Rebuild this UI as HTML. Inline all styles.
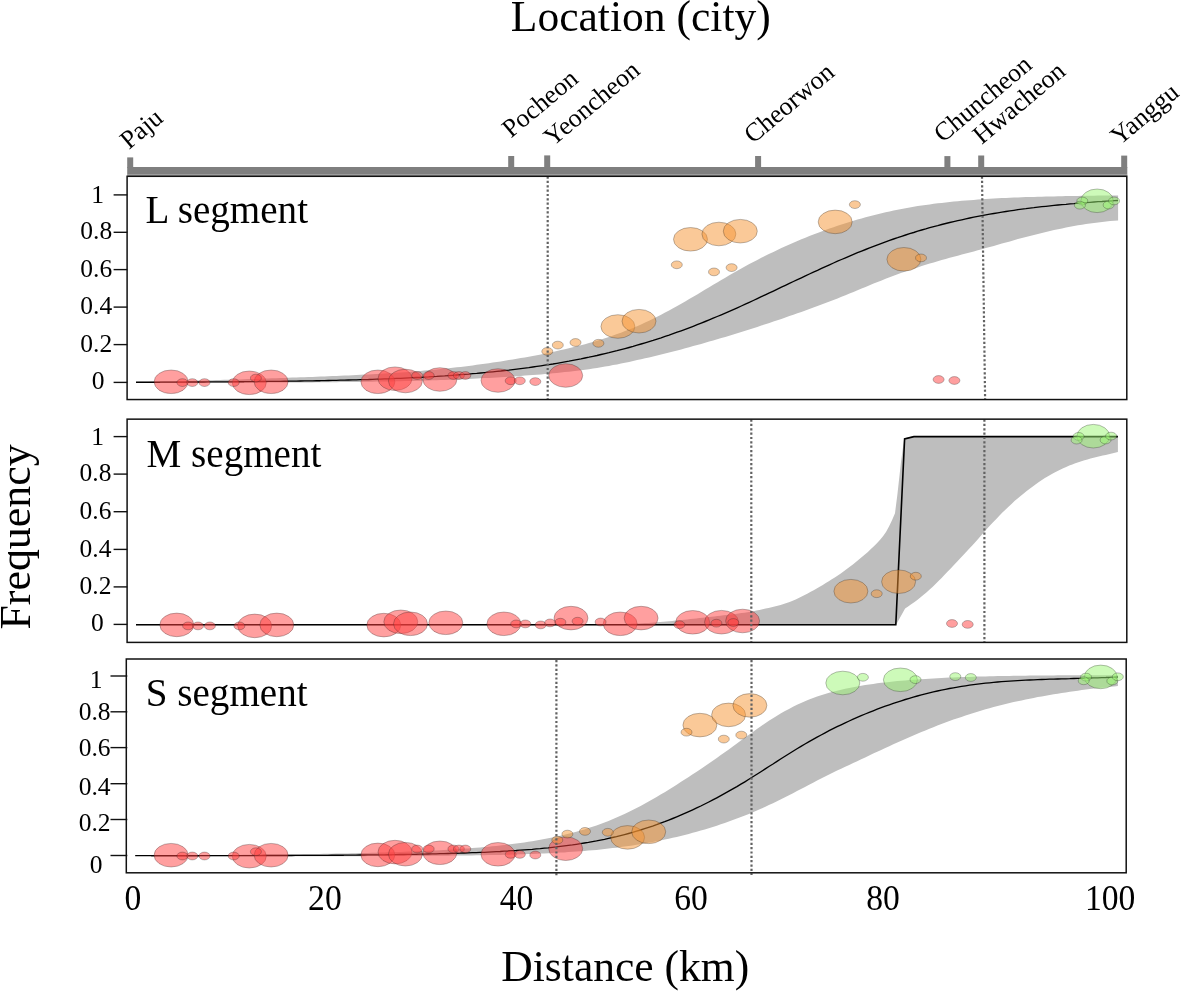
<!DOCTYPE html>
<html><head><meta charset="utf-8"><title>Cline chart</title>
<style>html,body{margin:0;padding:0;background:#fff;}svg{display:block;will-change:transform;}text{font-family:"Liberation Serif", serif;fill:#000;}.e ellipse{stroke:rgba(40,40,40,0.38);stroke-width:0.8;}.dot{stroke:#626262;stroke-width:2.2;stroke-dasharray:2.2 2.15;fill:none;}.fr{fill:none;stroke:#111;stroke-width:1.5;}.tk{stroke:#111;stroke-width:1.4;fill:none;}.ln{stroke:#000;stroke-width:1.35;fill:none;stroke-linejoin:round;}.yl{font-size:25.5px;}.xl{font-size:34.5px;}.pt{font-size:39.1px;}.ct{font-size:26px;}.ax{font-size:43.55px;}</style></head><body>
<svg width="1182" height="991" viewBox="0 0 1182 991">
<rect x="0" y="0" width="1182" height="991" fill="#fff"/>
<text class="ax" x="510.8" y="31">Location (city)</text>
<text class="ax" x="501.3" y="980.8">Distance (km)</text>
<text class="ax" style="font-size:43.9px" transform="translate(30.2,629.6) rotate(-90)">Frequency</text>
<text class="ct" transform="translate(129.0,150.0) rotate(-40)">Paju</text>
<text class="ct" transform="translate(511.0,138.6) rotate(-40)">Pocheon</text>
<text class="ct" transform="translate(552.8,147.0) rotate(-40)">Yeoncheon</text>
<text class="ct" transform="translate(752.9,144.3) rotate(-40)">Cheorwon</text>
<text class="ct" transform="translate(942.8,143.3) rotate(-40)">Chuncheon</text>
<text class="ct" transform="translate(981.8,145.0) rotate(-40)">Hwacheon</text>
<text class="ct" transform="translate(1119.4,146.1) rotate(-40)">Yanggu</text>
<rect x="127.2" y="167" width="1000.1" height="7.2" fill="#7f7f7f"/>
<rect x="127.2" y="174" width="1000.1" height="2" fill="#9c9c9c"/>
<rect x="127.2" y="157.4" width="6.0" height="10.6" fill="#7f7f7f"/>
<rect x="508.2" y="156.0" width="6.0" height="12.0" fill="#7f7f7f"/>
<rect x="544.2" y="155.4" width="6.0" height="12.6" fill="#7f7f7f"/>
<rect x="755.1" y="156.0" width="6.0" height="12.0" fill="#7f7f7f"/>
<rect x="944.4" y="156.1" width="6.0" height="11.9" fill="#7f7f7f"/>
<rect x="978.2" y="155.5" width="6.0" height="12.5" fill="#7f7f7f"/>
<rect x="1121.2" y="155.6" width="6.0" height="12.4" fill="#7f7f7f"/>
<g>
<path d="M136.0 381.9 L140.0 381.8 L144.0 381.7 L148.0 381.7 L152.0 381.6 L156.0 381.5 L160.1 381.4 L164.1 381.3 L168.1 381.3 L172.1 381.2 L176.1 381.1 L180.1 381.0 L184.1 380.9 L188.1 380.8 L192.1 380.7 L196.1 380.6 L200.1 380.5 L204.1 380.4 L208.2 380.3 L212.2 380.2 L216.2 380.1 L220.2 380.0 L224.2 379.8 L228.2 379.7 L232.2 379.6 L236.2 379.5 L240.2 379.4 L244.2 379.2 L248.2 379.1 L252.2 379.0 L256.3 378.9 L260.3 378.7 L264.3 378.6 L268.3 378.5 L272.3 378.3 L276.3 378.2 L280.3 378.1 L284.3 377.9 L288.3 377.8 L292.3 377.6 L296.3 377.5 L300.4 377.3 L304.4 377.2 L308.4 377.1 L312.4 376.9 L316.4 376.7 L320.4 376.6 L324.4 376.4 L328.4 376.3 L332.4 376.1 L336.4 375.9 L340.4 375.8 L344.4 375.6 L348.5 375.4 L352.5 375.2 L356.5 375.0 L360.5 374.8 L364.5 374.6 L368.5 374.4 L372.5 374.2 L376.5 374.0 L380.5 373.8 L384.5 373.5 L388.5 373.3 L392.5 373.0 L396.6 372.8 L400.6 372.5 L404.6 372.2 L408.6 371.9 L412.6 371.6 L416.6 371.3 L420.6 370.9 L424.6 370.6 L428.6 370.2 L432.6 369.8 L436.6 369.5 L440.7 369.1 L444.7 368.6 L448.7 368.2 L452.7 367.8 L456.7 367.3 L460.7 366.9 L464.7 366.4 L468.7 365.9 L472.7 365.4 L476.7 364.8 L480.7 364.3 L484.7 363.7 L488.8 363.2 L492.8 362.6 L496.8 362.0 L500.8 361.4 L504.8 360.8 L508.8 360.1 L512.8 359.5 L516.8 358.8 L520.8 358.1 L524.8 357.4 L528.8 356.7 L532.8 355.9 L536.9 355.2 L540.9 354.4 L544.9 353.6 L548.9 352.7 L552.9 351.9 L556.9 351.0 L560.9 350.1 L564.9 349.2 L568.9 348.3 L572.9 347.3 L576.9 346.3 L581.0 345.2 L585.0 344.2 L589.0 343.1 L593.0 341.9 L597.0 340.7 L601.0 339.5 L605.0 338.2 L609.0 336.9 L613.0 335.6 L617.0 334.1 L621.0 332.7 L625.0 331.1 L629.1 329.6 L633.1 327.9 L637.1 326.2 L641.1 324.4 L645.1 322.6 L649.1 320.7 L653.1 318.8 L657.1 316.8 L661.1 314.7 L665.1 312.6 L669.1 310.4 L673.1 308.3 L677.2 306.0 L681.2 303.7 L685.2 301.4 L689.2 299.1 L693.2 296.8 L697.2 294.4 L701.2 292.0 L705.2 289.6 L709.2 287.2 L713.2 284.8 L717.2 282.4 L721.3 280.0 L725.3 277.7 L729.3 275.3 L733.3 273.0 L737.3 270.8 L741.3 268.5 L745.3 266.3 L749.3 264.1 L753.3 262.0 L757.3 259.9 L761.3 257.8 L765.3 255.8 L769.4 253.8 L773.4 251.9 L777.4 250.0 L781.4 248.1 L785.4 246.3 L789.4 244.5 L793.4 242.7 L797.4 241.0 L801.4 239.3 L805.4 237.7 L809.4 236.1 L813.4 234.5 L817.5 233.0 L821.5 231.5 L825.5 230.0 L829.5 228.6 L833.5 227.2 L837.5 225.8 L841.5 224.5 L845.5 223.2 L849.5 222.0 L853.5 220.8 L857.5 219.6 L861.6 218.4 L865.6 217.3 L869.6 216.2 L873.6 215.2 L877.6 214.2 L881.6 213.2 L885.6 212.3 L889.6 211.4 L893.6 210.6 L897.6 209.7 L901.6 208.9 L905.6 208.2 L909.7 207.5 L913.7 206.8 L917.7 206.1 L921.7 205.5 L925.7 204.9 L929.7 204.4 L933.7 203.8 L937.7 203.3 L941.7 202.9 L945.7 202.4 L949.7 202.0 L953.7 201.6 L957.8 201.2 L961.8 200.8 L965.8 200.5 L969.8 200.2 L973.8 199.9 L977.8 199.6 L981.8 199.3 L985.8 199.0 L989.8 198.8 L993.8 198.6 L997.8 198.3 L1001.9 198.1 L1005.9 198.0 L1009.9 197.8 L1013.9 197.6 L1017.9 197.4 L1021.9 197.3 L1025.9 197.1 L1029.9 197.0 L1033.9 196.9 L1037.9 196.8 L1041.9 196.7 L1045.9 196.5 L1050.0 196.5 L1054.0 196.4 L1058.0 196.3 L1062.0 196.2 L1066.0 196.1 L1070.0 196.0 L1074.0 196.0 L1078.0 195.9 L1082.0 195.8 L1086.0 195.8 L1090.0 195.7 L1094.0 195.7 L1098.1 195.6 L1102.1 195.6 L1106.1 195.6 L1110.1 195.5 L1114.1 195.5 L1118.1 195.5 L1118.1 220.4 L1114.1 220.7 L1110.1 221.1 L1106.1 221.5 L1102.1 221.9 L1098.1 222.4 L1094.0 222.9 L1090.0 223.4 L1086.0 224.0 L1082.0 224.7 L1078.0 225.3 L1074.0 226.0 L1070.0 226.8 L1066.0 227.6 L1062.0 228.4 L1058.0 229.2 L1054.0 230.1 L1050.0 231.0 L1045.9 231.9 L1041.9 232.9 L1037.9 233.9 L1033.9 234.9 L1029.9 235.9 L1025.9 237.0 L1021.9 238.1 L1017.9 239.1 L1013.9 240.2 L1009.9 241.4 L1005.9 242.5 L1001.9 243.6 L997.8 244.7 L993.8 245.9 L989.8 247.0 L985.8 248.1 L981.8 249.2 L977.8 250.3 L973.8 251.4 L969.8 252.5 L965.8 253.5 L961.8 254.6 L957.8 255.7 L953.7 256.8 L949.7 257.8 L945.7 258.9 L941.7 260.1 L937.7 261.2 L933.7 262.4 L929.7 263.6 L925.7 264.8 L921.7 266.1 L917.7 267.4 L913.7 268.7 L909.7 270.0 L905.6 271.4 L901.6 272.8 L897.6 274.3 L893.6 275.7 L889.6 277.3 L885.6 278.8 L881.6 280.4 L877.6 282.0 L873.6 283.6 L869.6 285.3 L865.6 287.0 L861.6 288.6 L857.5 290.3 L853.5 291.9 L849.5 293.6 L845.5 295.2 L841.5 296.8 L837.5 298.4 L833.5 299.9 L829.5 301.5 L825.5 303.0 L821.5 304.5 L817.5 306.0 L813.4 307.5 L809.4 309.0 L805.4 310.4 L801.4 311.9 L797.4 313.3 L793.4 314.7 L789.4 316.1 L785.4 317.5 L781.4 318.9 L777.4 320.3 L773.4 321.6 L769.4 323.0 L765.3 324.3 L761.3 325.6 L757.3 326.9 L753.3 328.2 L749.3 329.5 L745.3 330.7 L741.3 332.0 L737.3 333.2 L733.3 334.5 L729.3 335.7 L725.3 336.9 L721.3 338.1 L717.2 339.3 L713.2 340.5 L709.2 341.6 L705.2 342.8 L701.2 343.9 L697.2 345.0 L693.2 346.1 L689.2 347.2 L685.2 348.3 L681.2 349.4 L677.2 350.4 L673.1 351.5 L669.1 352.5 L665.1 353.5 L661.1 354.5 L657.1 355.5 L653.1 356.5 L649.1 357.4 L645.1 358.3 L641.1 359.3 L637.1 360.1 L633.1 361.0 L629.1 361.9 L625.0 362.7 L621.0 363.6 L617.0 364.4 L613.0 365.1 L609.0 365.9 L605.0 366.6 L601.0 367.3 L597.0 367.9 L593.0 368.6 L589.0 369.2 L585.0 369.7 L581.0 370.3 L576.9 370.8 L572.9 371.3 L568.9 371.7 L564.9 372.1 L560.9 372.6 L556.9 373.0 L552.9 373.3 L548.9 373.7 L544.9 374.0 L540.9 374.4 L536.9 374.7 L532.8 375.0 L528.8 375.3 L524.8 375.6 L520.8 375.9 L516.8 376.2 L512.8 376.4 L508.8 376.7 L504.8 376.9 L500.8 377.2 L496.8 377.4 L492.8 377.7 L488.8 377.9 L484.7 378.1 L480.7 378.3 L476.7 378.5 L472.7 378.7 L468.7 378.9 L464.7 379.1 L460.7 379.3 L456.7 379.4 L452.7 379.6 L448.7 379.8 L444.7 379.9 L440.7 380.1 L436.6 380.2 L432.6 380.3 L428.6 380.4 L424.6 380.6 L420.6 380.7 L416.6 380.8 L412.6 380.9 L408.6 381.0 L404.6 381.1 L400.6 381.2 L396.6 381.3 L392.5 381.4 L388.5 381.4 L384.5 381.5 L380.5 381.6 L376.5 381.6 L372.5 381.7 L368.5 381.8 L364.5 381.8 L360.5 381.9 L356.5 381.9 L352.5 382.0 L348.5 382.0 L344.4 382.1 L340.4 382.1 L336.4 382.2 L332.4 382.2 L328.4 382.2 L324.4 382.3 L320.4 382.3 L316.4 382.3 L312.4 382.4 L308.4 382.4 L304.4 382.4 L300.4 382.4 L296.3 382.5 L292.3 382.5 L288.3 382.5 L284.3 382.5 L280.3 382.5 L276.3 382.6 L272.3 382.6 L268.3 382.6 L264.3 382.6 L260.3 382.6 L256.3 382.6 L252.2 382.6 L248.2 382.7 L244.2 382.7 L240.2 382.7 L236.2 382.7 L232.2 382.7 L228.2 382.7 L224.2 382.7 L220.2 382.7 L216.2 382.7 L212.2 382.7 L208.2 382.7 L204.1 382.7 L200.1 382.7 L196.1 382.7 L192.1 382.7 L188.1 382.7 L184.1 382.7 L180.1 382.7 L176.1 382.7 L172.1 382.7 L168.1 382.7 L164.1 382.7 L160.1 382.7 L156.0 382.7 L152.0 382.7 L148.0 382.7 L144.0 382.7 L140.0 382.6 L136.0 382.6Z" fill="#bebebe"/>
<path class="ln" d="M136.0 382.2 L140.0 382.2 L144.0 382.2 L148.0 382.2 L152.0 382.2 L156.0 382.2 L160.1 382.2 L164.1 382.1 L168.1 382.1 L172.1 382.1 L176.1 382.1 L180.1 382.1 L184.1 382.1 L188.1 382.0 L192.1 382.0 L196.1 382.0 L200.1 382.0 L204.1 382.0 L208.2 381.9 L212.2 381.9 L216.2 381.9 L220.2 381.9 L224.2 381.8 L228.2 381.8 L232.2 381.8 L236.2 381.7 L240.2 381.7 L244.2 381.7 L248.2 381.6 L252.2 381.6 L256.3 381.6 L260.3 381.5 L264.3 381.5 L268.3 381.4 L272.3 381.4 L276.3 381.3 L280.3 381.3 L284.3 381.2 L288.3 381.2 L292.3 381.1 L296.3 381.1 L300.4 381.0 L304.4 380.9 L308.4 380.9 L312.4 380.8 L316.4 380.7 L320.4 380.7 L324.4 380.6 L328.4 380.5 L332.4 380.4 L336.4 380.3 L340.4 380.2 L344.4 380.1 L348.5 380.0 L352.5 379.9 L356.5 379.8 L360.5 379.7 L364.5 379.6 L368.5 379.5 L372.5 379.3 L376.5 379.2 L380.5 379.1 L384.5 378.9 L388.5 378.8 L392.5 378.6 L396.6 378.4 L400.6 378.3 L404.6 378.1 L408.6 377.9 L412.6 377.7 L416.6 377.5 L420.6 377.3 L424.6 377.1 L428.6 376.9 L432.6 376.6 L436.6 376.4 L440.7 376.1 L444.7 375.9 L448.7 375.6 L452.7 375.3 L456.7 375.0 L460.7 374.7 L464.7 374.4 L468.7 374.1 L472.7 373.7 L476.7 373.4 L480.7 373.0 L484.7 372.6 L488.8 372.2 L492.8 371.8 L496.8 371.4 L500.8 371.0 L504.8 370.5 L508.8 370.1 L512.8 369.6 L516.8 369.1 L520.8 368.6 L524.8 368.1 L528.8 367.6 L532.8 367.0 L536.9 366.4 L540.9 365.8 L544.9 365.2 L548.9 364.6 L552.9 364.0 L556.9 363.3 L560.9 362.6 L564.9 361.9 L568.9 361.2 L572.9 360.4 L576.9 359.6 L581.0 358.9 L585.0 358.0 L589.0 357.2 L593.0 356.3 L597.0 355.5 L601.0 354.5 L605.0 353.6 L609.0 352.7 L613.0 351.7 L617.0 350.7 L621.0 349.6 L625.0 348.6 L629.1 347.5 L633.1 346.4 L637.1 345.2 L641.1 344.0 L645.1 342.8 L649.1 341.6 L653.1 340.4 L657.1 339.1 L661.1 337.8 L665.1 336.4 L669.1 335.1 L673.1 333.7 L677.2 332.2 L681.2 330.8 L685.2 329.3 L689.2 327.8 L693.2 326.3 L697.2 324.7 L701.2 323.1 L705.2 321.5 L709.2 319.9 L713.2 318.2 L717.2 316.5 L721.3 314.8 L725.3 313.1 L729.3 311.3 L733.3 309.6 L737.3 307.8 L741.3 306.0 L745.3 304.2 L749.3 302.3 L753.3 300.5 L757.3 298.6 L761.3 296.7 L765.3 294.8 L769.4 292.9 L773.4 291.1 L777.4 289.2 L781.4 287.2 L785.4 285.3 L789.4 283.4 L793.4 281.5 L797.4 279.6 L801.4 277.8 L805.4 275.9 L809.4 274.0 L813.4 272.1 L817.5 270.3 L821.5 268.4 L825.5 266.6 L829.5 264.8 L833.5 263.0 L837.5 261.2 L841.5 259.5 L845.5 257.8 L849.5 256.1 L853.5 254.4 L857.5 252.7 L861.6 251.1 L865.6 249.5 L869.6 247.9 L873.6 246.4 L877.6 244.8 L881.6 243.3 L885.6 241.9 L889.6 240.4 L893.6 239.0 L897.6 237.7 L901.6 236.3 L905.6 235.0 L909.7 233.7 L913.7 232.5 L917.7 231.2 L921.7 230.0 L925.7 228.9 L929.7 227.7 L933.7 226.6 L937.7 225.6 L941.7 224.5 L945.7 223.5 L949.7 222.5 L953.7 221.6 L957.8 220.7 L961.8 219.8 L965.8 218.9 L969.8 218.0 L973.8 217.2 L977.8 216.4 L981.8 215.6 L985.8 214.9 L989.8 214.2 L993.8 213.5 L997.8 212.8 L1001.9 212.1 L1005.9 211.5 L1009.9 210.9 L1013.9 210.3 L1017.9 209.7 L1021.9 209.2 L1025.9 208.7 L1029.9 208.1 L1033.9 207.7 L1037.9 207.2 L1041.9 206.7 L1045.9 206.3 L1050.0 205.8 L1054.0 205.4 L1058.0 205.0 L1062.0 204.6 L1066.0 204.3 L1070.0 203.9 L1074.0 203.6 L1078.0 203.2 L1082.0 202.9 L1086.0 202.6 L1090.0 202.3 L1094.0 202.0 L1098.1 201.7 L1102.1 201.5 L1106.1 201.2 L1110.1 201.0 L1114.1 200.7 L1118.1 200.5"/>
<g class="e"><ellipse cx="171.1" cy="381.8" rx="17.0" ry="11.8" fill="rgba(255,64,64,0.5)"/><ellipse cx="249.3" cy="382.8" rx="17.0" ry="11.8" fill="rgba(255,64,64,0.5)"/><ellipse cx="271.1" cy="381.8" rx="17.0" ry="11.8" fill="rgba(255,64,64,0.5)"/><ellipse cx="377.9" cy="381.8" rx="17.0" ry="11.8" fill="rgba(255,64,64,0.5)"/><ellipse cx="395.0" cy="378.7" rx="17.0" ry="11.8" fill="rgba(255,64,64,0.5)"/><ellipse cx="405.4" cy="381.0" rx="17.0" ry="11.8" fill="rgba(255,64,64,0.5)"/><ellipse cx="439.9" cy="379.5" rx="17.0" ry="11.8" fill="rgba(255,64,64,0.5)"/><ellipse cx="498.0" cy="380.5" rx="17.0" ry="11.8" fill="rgba(255,64,64,0.5)"/><ellipse cx="565.7" cy="375.5" rx="17.0" ry="11.8" fill="rgba(255,64,64,0.5)"/><ellipse cx="182.4" cy="382.6" rx="5.5" ry="3.9" fill="rgba(255,64,64,0.5)"/><ellipse cx="192.3" cy="382.6" rx="5.5" ry="3.9" fill="rgba(255,64,64,0.5)"/><ellipse cx="204.5" cy="382.6" rx="5.5" ry="3.9" fill="rgba(255,64,64,0.5)"/><ellipse cx="233.7" cy="382.6" rx="5.5" ry="3.9" fill="rgba(255,64,64,0.5)"/><ellipse cx="255.9" cy="378.1" rx="5.5" ry="3.9" fill="rgba(255,64,64,0.5)"/><ellipse cx="417.2" cy="375.5" rx="5.5" ry="3.9" fill="rgba(255,64,64,0.5)"/><ellipse cx="428.7" cy="375.5" rx="5.5" ry="3.9" fill="rgba(255,64,64,0.5)"/><ellipse cx="453.4" cy="375.5" rx="5.5" ry="3.9" fill="rgba(255,64,64,0.5)"/><ellipse cx="458.9" cy="375.5" rx="5.5" ry="3.9" fill="rgba(255,64,64,0.5)"/><ellipse cx="465.3" cy="375.5" rx="5.5" ry="3.9" fill="rgba(255,64,64,0.5)"/><ellipse cx="510.7" cy="380.8" rx="5.5" ry="3.9" fill="rgba(255,64,64,0.5)"/><ellipse cx="519.8" cy="380.8" rx="5.5" ry="3.9" fill="rgba(255,64,64,0.5)"/><ellipse cx="535.3" cy="381.6" rx="5.5" ry="3.9" fill="rgba(255,64,64,0.5)"/><ellipse cx="938.6" cy="379.5" rx="5.5" ry="3.9" fill="rgba(255,64,64,0.5)"/><ellipse cx="954.4" cy="380.5" rx="5.5" ry="3.9" fill="rgba(255,64,64,0.5)"/><ellipse cx="617.9" cy="326.5" rx="17.0" ry="11.8" fill="rgba(245,148,50,0.5)"/><ellipse cx="639.0" cy="321.2" rx="17.0" ry="11.8" fill="rgba(245,148,50,0.5)"/><ellipse cx="690.5" cy="239.3" rx="17.0" ry="11.8" fill="rgba(245,148,50,0.5)"/><ellipse cx="718.9" cy="234.0" rx="17.0" ry="11.8" fill="rgba(245,148,50,0.5)"/><ellipse cx="740.3" cy="231.2" rx="17.0" ry="11.8" fill="rgba(245,148,50,0.5)"/><ellipse cx="835.2" cy="221.9" rx="17.0" ry="11.8" fill="rgba(245,148,50,0.5)"/><ellipse cx="903.9" cy="259.3" rx="17.0" ry="11.8" fill="rgba(245,148,50,0.5)"/><ellipse cx="547.3" cy="351.4" rx="5.5" ry="3.9" fill="rgba(245,148,50,0.5)"/><ellipse cx="557.8" cy="345.1" rx="5.5" ry="3.9" fill="rgba(245,148,50,0.5)"/><ellipse cx="575.5" cy="342.5" rx="5.5" ry="3.9" fill="rgba(245,148,50,0.5)"/><ellipse cx="598.4" cy="343.3" rx="5.5" ry="3.9" fill="rgba(245,148,50,0.5)"/><ellipse cx="676.8" cy="264.8" rx="5.5" ry="3.9" fill="rgba(245,148,50,0.5)"/><ellipse cx="714.0" cy="271.9" rx="5.5" ry="3.9" fill="rgba(245,148,50,0.5)"/><ellipse cx="731.6" cy="267.6" rx="5.5" ry="3.9" fill="rgba(245,148,50,0.5)"/><ellipse cx="854.9" cy="204.6" rx="5.5" ry="3.9" fill="rgba(245,148,50,0.5)"/><ellipse cx="921.0" cy="257.9" rx="5.5" ry="3.9" fill="rgba(245,148,50,0.5)"/><ellipse cx="1097.1" cy="200.8" rx="16.2" ry="11.8" fill="rgba(156,246,116,0.5)"/><ellipse cx="1082.3" cy="201.0" rx="5.5" ry="3.9" fill="rgba(156,246,116,0.5)"/><ellipse cx="1079.9" cy="205.2" rx="5.5" ry="3.9" fill="rgba(156,246,116,0.5)"/><ellipse cx="1108.6" cy="205.0" rx="5.5" ry="3.9" fill="rgba(156,246,116,0.5)"/><ellipse cx="1114.1" cy="200.9" rx="5.5" ry="3.9" fill="rgba(156,246,116,0.5)"/></g>
<line class="dot" x1="547.7" y1="176.5" x2="547.7" y2="399.0"/>
<line class="dot" x1="982.0" y1="176.5" x2="985.1" y2="399.0"/>
<rect class="fr" x="127.10" y="176.30" width="999.70" height="223.25"/>
<line class="tk" x1="113.6" y1="194.9" x2="127.3" y2="194.9"/>
<line class="tk" x1="113.6" y1="232.3" x2="127.3" y2="232.3"/>
<line class="tk" x1="113.6" y1="269.6" x2="127.3" y2="269.6"/>
<line class="tk" x1="113.6" y1="307.1" x2="127.3" y2="307.1"/>
<line class="tk" x1="113.6" y1="344.6" x2="127.3" y2="344.6"/>
<line class="tk" x1="113.6" y1="382.4" x2="127.3" y2="382.4"/>
<text class="yl" text-anchor="middle" x="97.6" y="203.3">1</text>
<text class="yl" text-anchor="end" x="112.2" y="239.4">0.8</text>
<text class="yl" text-anchor="end" x="112.2" y="276.8">0.6</text>
<text class="yl" text-anchor="end" x="112.2" y="314.4">0.4</text>
<text class="yl" text-anchor="end" x="112.2" y="351.8">0.2</text>
<text class="yl" text-anchor="middle" x="98.0" y="389.0">0</text>
<text class="pt" x="145.6" y="223.2">L segment</text>
</g>
<g>
<path d="M136.0 624.2 L600.0 624.2 L603.0 624.2 L606.0 624.2 L609.0 624.1 L612.0 624.1 L615.1 624.1 L618.1 624.0 L621.1 623.9 L624.1 623.9 L627.1 623.8 L630.1 623.7 L633.1 623.6 L636.1 623.5 L639.1 623.4 L642.1 623.3 L645.2 623.1 L648.2 622.9 L651.2 622.7 L654.2 622.5 L657.2 622.3 L660.2 622.0 L663.2 621.8 L666.2 621.5 L669.2 621.2 L672.2 620.9 L675.3 620.6 L678.3 620.3 L681.3 620.0 L684.3 619.7 L687.3 619.4 L690.3 619.1 L693.3 618.7 L696.3 618.4 L699.3 618.1 L702.3 617.7 L705.4 617.4 L708.4 617.1 L711.4 616.7 L714.4 616.4 L717.4 616.0 L720.4 615.7 L723.4 615.3 L726.4 615.0 L729.4 614.6 L732.4 614.2 L735.5 613.9 L738.5 613.5 L741.5 613.1 L744.5 612.7 L747.5 612.3 L750.5 611.8 L753.5 611.2 L756.5 610.6 L759.5 609.9 L762.6 609.2 L765.6 608.5 L768.6 607.9 L771.6 607.2 L774.6 606.5 L777.6 605.7 L780.6 604.9 L783.6 604.0 L786.6 603.0 L789.6 601.9 L792.7 600.7 L795.7 599.4 L798.7 598.0 L801.7 596.5 L804.7 595.0 L807.7 593.4 L810.7 591.8 L813.7 590.2 L816.7 588.5 L819.7 586.7 L822.8 584.9 L825.8 583.1 L828.8 581.2 L831.8 579.3 L834.8 577.4 L837.8 575.4 L840.8 573.4 L843.8 571.2 L846.8 569.0 L849.8 566.8 L852.9 564.4 L855.9 562.0 L858.9 559.6 L861.9 557.1 L864.9 554.6 L867.9 551.9 L870.9 549.1 L873.9 546.2 L876.9 543.2 L879.9 539.9 L883.0 536.3 L886.0 532.0 L889.0 526.6 L892.0 520.2 L895.0 513.2 L897.4 494.5 L901.0 462.0 L903.9 440.5 L904.4 438.3 L913.9 436.0 L1117.9 436.0 L1117.9 452.1 L1114.9 452.8 L1111.8 453.5 L1108.8 454.2 L1105.7 454.9 L1102.7 455.6 L1099.7 456.3 L1096.6 457.0 L1093.6 457.8 L1090.5 458.6 L1087.5 459.4 L1084.5 460.3 L1081.4 461.3 L1078.4 462.3 L1075.3 463.3 L1072.3 464.4 L1069.3 465.6 L1066.2 466.9 L1063.2 468.3 L1060.1 469.7 L1057.1 471.2 L1054.1 472.8 L1051.0 474.4 L1048.0 476.2 L1044.9 478.0 L1041.9 480.0 L1038.9 482.0 L1035.8 484.2 L1032.8 486.4 L1029.7 488.7 L1026.7 491.0 L1023.7 493.4 L1020.6 495.9 L1017.6 498.5 L1014.5 501.1 L1011.5 503.9 L1008.5 506.7 L1005.4 509.7 L1002.4 512.6 L999.3 515.7 L996.3 518.9 L993.3 522.0 L990.2 525.3 L987.2 528.6 L984.1 532.0 L981.1 535.5 L978.1 539.0 L975.0 542.4 L972.0 545.8 L968.9 549.1 L965.9 552.3 L962.9 555.6 L959.8 558.8 L956.8 562.1 L953.7 565.3 L950.7 568.5 L947.7 571.6 L944.6 574.8 L941.6 577.9 L938.5 581.0 L935.5 584.0 L932.5 586.9 L929.4 589.7 L926.4 592.4 L923.3 595.0 L920.3 597.5 L917.3 599.9 L914.2 602.2 L911.2 604.3 L908.1 606.4 L905.1 608.4 L895.8 625.3 L136.0 625.3Z" fill="#bebebe"/>
<path class="ln" style="stroke-width:1.6;stroke-linejoin:miter" d="M136.0 624.7 L895.8 624.7 L904.6 438.9 L913.9 436.6 L1117.9 436.6"/>
<g class="e"><ellipse cx="176.8" cy="624.9" rx="17.0" ry="11.8" fill="rgba(255,64,64,0.5)"/><ellipse cx="254.7" cy="625.9" rx="17.0" ry="11.8" fill="rgba(255,64,64,0.5)"/><ellipse cx="276.8" cy="624.9" rx="17.0" ry="11.8" fill="rgba(255,64,64,0.5)"/><ellipse cx="383.8" cy="625.1" rx="17.0" ry="11.8" fill="rgba(255,64,64,0.5)"/><ellipse cx="400.8" cy="621.8" rx="17.0" ry="11.8" fill="rgba(255,64,64,0.5)"/><ellipse cx="410.5" cy="623.8" rx="17.0" ry="11.8" fill="rgba(255,64,64,0.5)"/><ellipse cx="445.8" cy="622.8" rx="17.0" ry="11.8" fill="rgba(255,64,64,0.5)"/><ellipse cx="503.9" cy="623.8" rx="17.0" ry="11.8" fill="rgba(255,64,64,0.5)"/><ellipse cx="571.0" cy="618.1" rx="17.0" ry="11.8" fill="rgba(255,64,64,0.5)"/><ellipse cx="620.2" cy="623.8" rx="17.0" ry="11.8" fill="rgba(255,64,64,0.5)"/><ellipse cx="641.1" cy="618.1" rx="17.0" ry="11.8" fill="rgba(255,64,64,0.5)"/><ellipse cx="692.7" cy="622.3" rx="17.0" ry="11.8" fill="rgba(255,64,64,0.5)"/><ellipse cx="721.5" cy="622.2" rx="17.0" ry="11.8" fill="rgba(255,64,64,0.5)"/><ellipse cx="742.6" cy="621.0" rx="17.0" ry="11.8" fill="rgba(255,64,64,0.5)"/><ellipse cx="188.1" cy="625.9" rx="5.5" ry="3.9" fill="rgba(255,64,64,0.5)"/><ellipse cx="198.0" cy="625.9" rx="5.5" ry="3.9" fill="rgba(255,64,64,0.5)"/><ellipse cx="209.9" cy="625.9" rx="5.5" ry="3.9" fill="rgba(255,64,64,0.5)"/><ellipse cx="239.4" cy="625.9" rx="5.5" ry="3.9" fill="rgba(255,64,64,0.5)"/><ellipse cx="516.2" cy="623.9" rx="5.5" ry="3.9" fill="rgba(255,64,64,0.5)"/><ellipse cx="525.3" cy="623.9" rx="5.5" ry="3.9" fill="rgba(255,64,64,0.5)"/><ellipse cx="540.7" cy="624.9" rx="5.5" ry="3.9" fill="rgba(255,64,64,0.5)"/><ellipse cx="550.1" cy="622.9" rx="5.5" ry="3.9" fill="rgba(255,64,64,0.5)"/><ellipse cx="560.4" cy="622.2" rx="5.5" ry="3.9" fill="rgba(255,64,64,0.5)"/><ellipse cx="577.6" cy="621.2" rx="5.5" ry="3.9" fill="rgba(255,64,64,0.5)"/><ellipse cx="600.6" cy="622.0" rx="5.5" ry="3.9" fill="rgba(255,64,64,0.5)"/><ellipse cx="679.4" cy="624.7" rx="5.5" ry="3.9" fill="rgba(255,64,64,0.5)"/><ellipse cx="716.4" cy="623.2" rx="5.5" ry="3.9" fill="rgba(255,64,64,0.5)"/><ellipse cx="733.3" cy="622.5" rx="5.5" ry="3.9" fill="rgba(255,64,64,0.5)"/><ellipse cx="952.0" cy="623.5" rx="5.5" ry="3.9" fill="rgba(255,64,64,0.5)"/><ellipse cx="967.7" cy="624.4" rx="5.5" ry="3.9" fill="rgba(255,64,64,0.5)"/><ellipse cx="850.9" cy="591.2" rx="17.0" ry="11.8" fill="rgba(245,148,50,0.5)"/><ellipse cx="898.6" cy="581.7" rx="17.0" ry="11.8" fill="rgba(245,148,50,0.5)"/><ellipse cx="876.7" cy="593.7" rx="5.5" ry="3.9" fill="rgba(245,148,50,0.5)"/><ellipse cx="915.8" cy="576.2" rx="5.5" ry="3.9" fill="rgba(245,148,50,0.5)"/><ellipse cx="1093.3" cy="436.2" rx="16.3" ry="11.8" fill="rgba(156,246,116,0.5)"/><ellipse cx="1078.6" cy="436.4" rx="5.5" ry="3.9" fill="rgba(156,246,116,0.5)"/><ellipse cx="1076.6" cy="440.1" rx="5.5" ry="3.9" fill="rgba(156,246,116,0.5)"/><ellipse cx="1105.6" cy="440.0" rx="5.5" ry="3.9" fill="rgba(156,246,116,0.5)"/><ellipse cx="1111.1" cy="436.1" rx="5.5" ry="3.9" fill="rgba(156,246,116,0.5)"/></g>
<line class="dot" x1="751.3" y1="419.5" x2="751.3" y2="642.0"/>
<line class="dot" x1="984.4" y1="419.5" x2="984.4" y2="642.0"/>
<rect class="fr" x="127.10" y="419.15" width="999.70" height="223.25"/>
<line class="tk" x1="113.6" y1="436.6" x2="127.3" y2="436.6"/>
<line class="tk" x1="113.6" y1="474.1" x2="127.3" y2="474.1"/>
<line class="tk" x1="113.6" y1="511.7" x2="127.3" y2="511.7"/>
<line class="tk" x1="113.6" y1="549.4" x2="127.3" y2="549.4"/>
<line class="tk" x1="113.6" y1="586.9" x2="127.3" y2="586.9"/>
<line class="tk" x1="113.6" y1="624.4" x2="127.3" y2="624.4"/>
<text class="yl" text-anchor="middle" x="97.6" y="445.0">1</text>
<text class="yl" text-anchor="end" x="111.4" y="481.4">0.8</text>
<text class="yl" text-anchor="end" x="111.4" y="519.0">0.6</text>
<text class="yl" text-anchor="end" x="111.4" y="556.7">0.4</text>
<text class="yl" text-anchor="end" x="111.4" y="594.2">0.2</text>
<text class="yl" text-anchor="middle" x="97.4" y="631.4">0</text>
<text class="pt" x="146.6" y="467.4">M segment</text>
</g>
<g>
<path d="M135.2 855.5 L139.2 855.5 L143.2 855.5 L147.2 855.4 L151.2 855.4 L155.3 855.4 L159.3 855.4 L163.3 855.4 L167.3 855.3 L171.3 855.3 L175.3 855.3 L179.3 855.3 L183.3 855.3 L187.3 855.2 L191.4 855.2 L195.4 855.2 L199.4 855.2 L203.4 855.1 L207.4 855.1 L211.4 855.1 L215.4 855.0 L219.4 855.0 L223.4 855.0 L227.5 855.0 L231.5 854.9 L235.5 854.9 L239.5 854.9 L243.5 854.8 L247.5 854.8 L251.5 854.7 L255.5 854.7 L259.5 854.7 L263.6 854.6 L267.6 854.6 L271.6 854.5 L275.6 854.5 L279.6 854.5 L283.6 854.4 L287.6 854.4 L291.6 854.3 L295.6 854.2 L299.7 854.2 L303.7 854.1 L307.7 854.1 L311.7 854.0 L315.7 854.0 L319.7 853.9 L323.7 853.8 L327.7 853.8 L331.7 853.7 L335.8 853.6 L339.8 853.5 L343.8 853.4 L347.8 853.4 L351.8 853.3 L355.8 853.2 L359.8 853.1 L363.8 853.0 L367.8 852.9 L371.9 852.8 L375.9 852.7 L379.9 852.6 L383.9 852.4 L387.9 852.3 L391.9 852.2 L395.9 852.1 L399.9 851.9 L403.9 851.8 L407.9 851.6 L412.0 851.5 L416.0 851.3 L420.0 851.1 L424.0 851.0 L428.0 850.8 L432.0 850.6 L436.0 850.4 L440.0 850.2 L444.0 849.9 L448.1 849.7 L452.1 849.5 L456.1 849.2 L460.1 848.9 L464.1 848.6 L468.1 848.4 L472.1 848.0 L476.1 847.7 L480.1 847.4 L484.2 847.0 L488.2 846.7 L492.2 846.3 L496.2 845.9 L500.2 845.4 L504.2 845.0 L508.2 844.5 L512.2 844.0 L516.2 843.5 L520.3 843.0 L524.3 842.4 L528.3 841.8 L532.3 841.2 L536.3 840.5 L540.3 839.8 L544.3 839.1 L548.3 838.3 L552.3 837.5 L556.4 836.6 L560.4 835.8 L564.4 834.8 L568.4 833.8 L572.4 832.8 L576.4 831.7 L580.4 830.6 L584.4 829.4 L588.4 828.1 L592.5 826.8 L596.5 825.4 L600.5 824.0 L604.5 822.5 L608.5 820.9 L612.5 819.3 L616.5 817.6 L620.5 815.8 L624.5 814.0 L628.6 812.1 L632.6 810.1 L636.6 808.0 L640.6 805.9 L644.6 803.8 L648.6 801.6 L652.6 799.3 L656.6 797.0 L660.6 794.6 L664.7 792.2 L668.7 789.7 L672.7 787.2 L676.7 784.7 L680.7 782.1 L684.7 779.6 L688.7 777.0 L692.7 774.3 L696.7 771.7 L700.8 769.0 L704.8 766.3 L708.8 763.5 L712.8 760.7 L716.8 757.9 L720.8 755.1 L724.8 752.2 L728.8 749.4 L732.8 746.5 L736.9 743.6 L740.9 740.6 L744.9 737.7 L748.9 734.8 L752.9 731.9 L756.9 729.0 L760.9 726.2 L764.9 723.5 L768.9 720.8 L773.0 718.2 L777.0 715.7 L781.0 713.3 L785.0 711.0 L789.0 708.9 L793.0 706.8 L797.0 704.8 L801.0 703.0 L805.0 701.2 L809.1 699.6 L813.1 698.1 L817.1 696.6 L821.1 695.3 L825.1 694.0 L829.1 692.8 L833.1 691.7 L837.1 690.7 L841.1 689.7 L845.2 688.8 L849.2 688.0 L853.2 687.2 L857.2 686.4 L861.2 685.7 L865.2 685.1 L869.2 684.5 L873.2 683.9 L877.2 683.3 L881.2 682.8 L885.3 682.4 L889.3 681.9 L893.3 681.5 L897.3 681.1 L901.3 680.7 L905.3 680.4 L909.3 680.0 L913.3 679.7 L917.3 679.4 L921.4 679.2 L925.4 678.9 L929.4 678.7 L933.4 678.4 L937.4 678.2 L941.4 678.0 L945.4 677.8 L949.4 677.6 L953.4 677.5 L957.5 677.3 L961.5 677.1 L965.5 677.0 L969.5 676.9 L973.5 676.7 L977.5 676.6 L981.5 676.5 L985.5 676.4 L989.5 676.3 L993.6 676.2 L997.6 676.1 L1001.6 676.1 L1005.6 676.0 L1009.6 675.9 L1013.6 675.8 L1017.6 675.8 L1021.6 675.7 L1025.6 675.7 L1029.7 675.6 L1033.7 675.6 L1037.7 675.5 L1041.7 675.5 L1045.7 675.4 L1049.7 675.4 L1053.7 675.4 L1057.7 675.3 L1061.7 675.3 L1065.8 675.3 L1069.8 675.3 L1073.8 675.2 L1077.8 675.2 L1081.8 675.2 L1085.8 675.2 L1089.8 675.2 L1093.8 675.2 L1097.8 675.2 L1101.9 675.2 L1105.9 675.2 L1109.9 675.2 L1113.9 675.2 L1117.9 675.2 L1117.9 686.0 L1113.9 686.4 L1109.9 686.8 L1105.9 687.2 L1101.9 687.7 L1097.8 688.2 L1093.8 688.6 L1089.8 689.1 L1085.8 689.6 L1081.8 690.1 L1077.8 690.7 L1073.8 691.2 L1069.8 691.8 L1065.8 692.4 L1061.7 693.0 L1057.7 693.7 L1053.7 694.3 L1049.7 695.0 L1045.7 695.7 L1041.7 696.4 L1037.7 697.1 L1033.7 697.9 L1029.7 698.7 L1025.6 699.5 L1021.6 700.4 L1017.6 701.2 L1013.6 702.1 L1009.6 703.1 L1005.6 704.0 L1001.6 705.0 L997.6 706.1 L993.6 707.1 L989.5 708.2 L985.5 709.3 L981.5 710.5 L977.5 711.7 L973.5 712.9 L969.5 714.2 L965.5 715.5 L961.5 716.9 L957.5 718.2 L953.4 719.6 L949.4 721.1 L945.4 722.6 L941.4 724.1 L937.4 725.6 L933.4 727.2 L929.4 728.8 L925.4 730.4 L921.4 732.1 L917.3 733.7 L913.3 735.5 L909.3 737.2 L905.3 739.0 L901.3 740.7 L897.3 742.5 L893.3 744.3 L889.3 746.2 L885.3 748.0 L881.2 749.9 L877.2 751.8 L873.2 753.6 L869.2 755.5 L865.2 757.4 L861.2 759.3 L857.2 761.2 L853.2 763.0 L849.2 764.9 L845.2 766.8 L841.1 768.7 L837.1 770.6 L833.1 772.6 L829.1 774.5 L825.1 776.5 L821.1 778.5 L817.1 780.6 L813.1 782.7 L809.1 784.8 L805.0 786.9 L801.0 789.0 L797.0 791.1 L793.0 793.2 L789.0 795.3 L785.0 797.3 L781.0 799.3 L777.0 801.3 L773.0 803.3 L768.9 805.1 L764.9 807.0 L760.9 808.8 L756.9 810.5 L752.9 812.3 L748.9 813.9 L744.9 815.5 L740.9 817.1 L736.9 818.6 L732.8 820.1 L728.8 821.6 L724.8 823.0 L720.8 824.3 L716.8 825.7 L712.8 826.9 L708.8 828.2 L704.8 829.4 L700.8 830.6 L696.7 831.7 L692.7 832.8 L688.7 833.9 L684.7 834.9 L680.7 835.9 L676.7 836.9 L672.7 837.8 L668.7 838.7 L664.7 839.6 L660.6 840.4 L656.6 841.2 L652.6 842.0 L648.6 842.8 L644.6 843.5 L640.6 844.2 L636.6 844.8 L632.6 845.4 L628.6 846.0 L624.5 846.6 L620.5 847.1 L616.5 847.7 L612.5 848.1 L608.5 848.6 L604.5 849.1 L600.5 849.5 L596.5 849.9 L592.5 850.2 L588.4 850.6 L584.4 850.9 L580.4 851.3 L576.4 851.6 L572.4 851.8 L568.4 852.1 L564.4 852.4 L560.4 852.6 L556.4 852.8 L552.3 853.0 L548.3 853.2 L544.3 853.4 L540.3 853.6 L536.3 853.8 L532.3 853.9 L528.3 854.1 L524.3 854.2 L520.3 854.3 L516.2 854.4 L512.2 854.6 L508.2 854.7 L504.2 854.8 L500.2 854.9 L496.2 855.0 L492.2 855.0 L488.2 855.1 L484.2 855.2 L480.1 855.3 L476.1 855.3 L472.1 855.4 L468.1 855.4 L464.1 855.5 L460.1 855.5 L456.1 855.6 L452.1 855.6 L448.1 855.7 L444.0 855.7 L440.0 855.8 L436.0 855.8 L432.0 855.8 L428.0 855.9 L424.0 855.9 L420.0 855.9 L416.0 855.9 L412.0 856.0 L407.9 856.0 L403.9 856.0 L399.9 856.0 L395.9 856.0 L391.9 856.1 L387.9 856.1 L383.9 856.1 L379.9 856.1 L375.9 856.1 L371.9 856.1 L367.8 856.1 L363.8 856.2 L359.8 856.2 L355.8 856.2 L351.8 856.2 L347.8 856.2 L343.8 856.2 L339.8 856.2 L335.8 856.2 L331.7 856.2 L327.7 856.2 L323.7 856.2 L319.7 856.2 L315.7 856.2 L311.7 856.3 L307.7 856.3 L303.7 856.3 L299.7 856.3 L295.6 856.3 L291.6 856.3 L287.6 856.3 L283.6 856.3 L279.6 856.3 L275.6 856.3 L271.6 856.3 L267.6 856.3 L263.6 856.3 L259.5 856.3 L255.5 856.3 L251.5 856.3 L247.5 856.3 L243.5 856.3 L239.5 856.3 L235.5 856.3 L231.5 856.3 L227.5 856.3 L223.4 856.2 L219.4 856.2 L215.4 856.2 L211.4 856.2 L207.4 856.2 L203.4 856.2 L199.4 856.2 L195.4 856.2 L191.4 856.2 L187.3 856.2 L183.3 856.2 L179.3 856.2 L175.3 856.1 L171.3 856.1 L167.3 856.1 L163.3 856.1 L159.3 856.1 L155.3 856.0 L151.2 856.0 L147.2 856.0 L143.2 856.0 L139.2 855.9 L135.2 855.9Z" fill="#bebebe"/>
<path class="ln" d="M135.2 855.6 L139.2 855.6 L143.2 855.6 L147.2 855.6 L151.2 855.7 L155.3 855.7 L159.3 855.7 L163.3 855.7 L167.3 855.7 L171.3 855.7 L175.3 855.7 L179.3 855.7 L183.3 855.7 L187.3 855.7 L191.4 855.7 L195.4 855.7 L199.4 855.7 L203.4 855.6 L207.4 855.6 L211.4 855.6 L215.4 855.6 L219.4 855.6 L223.4 855.6 L227.5 855.6 L231.5 855.6 L235.5 855.6 L239.5 855.6 L243.5 855.6 L247.5 855.6 L251.5 855.6 L255.5 855.6 L259.5 855.6 L263.6 855.5 L267.6 855.5 L271.6 855.5 L275.6 855.5 L279.6 855.5 L283.6 855.5 L287.6 855.5 L291.6 855.5 L295.6 855.4 L299.7 855.4 L303.7 855.4 L307.7 855.4 L311.7 855.4 L315.7 855.3 L319.7 855.3 L323.7 855.3 L327.7 855.3 L331.7 855.2 L335.8 855.2 L339.8 855.2 L343.8 855.2 L347.8 855.1 L351.8 855.1 L355.8 855.1 L359.8 855.0 L363.8 855.0 L367.8 854.9 L371.9 854.9 L375.9 854.9 L379.9 854.8 L383.9 854.8 L387.9 854.7 L391.9 854.7 L395.9 854.6 L399.9 854.5 L403.9 854.5 L407.9 854.4 L412.0 854.3 L416.0 854.3 L420.0 854.2 L424.0 854.1 L428.0 854.0 L432.0 853.9 L436.0 853.8 L440.0 853.7 L444.0 853.6 L448.1 853.5 L452.1 853.4 L456.1 853.3 L460.1 853.2 L464.1 853.0 L468.1 852.9 L472.1 852.7 L476.1 852.6 L480.1 852.4 L484.2 852.3 L488.2 852.1 L492.2 851.9 L496.2 851.7 L500.2 851.5 L504.2 851.2 L508.2 851.0 L512.2 850.7 L516.2 850.5 L520.3 850.2 L524.3 849.9 L528.3 849.6 L532.3 849.3 L536.3 848.9 L540.3 848.6 L544.3 848.2 L548.3 847.8 L552.3 847.3 L556.4 846.9 L560.4 846.4 L564.4 845.9 L568.4 845.4 L572.4 844.9 L576.4 844.3 L580.4 843.7 L584.4 843.0 L588.4 842.4 L592.5 841.6 L596.5 840.9 L600.5 840.1 L604.5 839.3 L608.5 838.4 L612.5 837.5 L616.5 836.6 L620.5 835.6 L624.5 834.6 L628.6 833.5 L632.6 832.4 L636.6 831.2 L640.6 830.0 L644.6 828.7 L648.6 827.4 L652.6 826.1 L656.6 824.7 L660.6 823.2 L664.7 821.7 L668.7 820.1 L672.7 818.5 L676.7 816.9 L680.7 815.2 L684.7 813.4 L688.7 811.6 L692.7 809.8 L696.7 807.9 L700.8 806.0 L704.8 804.0 L708.8 802.0 L712.8 799.9 L716.8 797.8 L720.8 795.6 L724.8 793.4 L728.8 791.2 L732.8 788.9 L736.9 786.6 L740.9 784.2 L744.9 781.8 L748.9 779.3 L752.9 776.8 L756.9 774.3 L760.9 771.7 L764.9 769.1 L768.9 766.5 L773.0 764.0 L777.0 761.4 L781.0 758.8 L785.0 756.2 L789.0 753.7 L793.0 751.2 L797.0 748.7 L801.0 746.3 L805.0 744.0 L809.1 741.6 L813.1 739.4 L817.1 737.1 L821.1 735.0 L825.1 732.8 L829.1 730.7 L833.1 728.7 L837.1 726.7 L841.1 724.8 L845.2 722.9 L849.2 721.0 L853.2 719.2 L857.2 717.4 L861.2 715.7 L865.2 714.0 L869.2 712.4 L873.2 710.8 L877.2 709.2 L881.2 707.7 L885.3 706.2 L889.3 704.8 L893.3 703.4 L897.3 702.1 L901.3 700.8 L905.3 699.5 L909.3 698.3 L913.3 697.1 L917.3 696.0 L921.4 694.9 L925.4 693.9 L929.4 692.9 L933.4 691.9 L937.4 691.0 L941.4 690.1 L945.4 689.3 L949.4 688.5 L953.4 687.8 L957.5 687.1 L961.5 686.4 L965.5 685.8 L969.5 685.2 L973.5 684.6 L977.5 684.1 L981.5 683.6 L985.5 683.2 L989.5 682.8 L993.6 682.4 L997.6 682.0 L1001.6 681.7 L1005.6 681.4 L1009.6 681.1 L1013.6 680.8 L1017.6 680.6 L1021.6 680.4 L1025.6 680.2 L1029.7 680.0 L1033.7 679.8 L1037.7 679.6 L1041.7 679.5 L1045.7 679.4 L1049.7 679.2 L1053.7 679.1 L1057.7 679.0 L1061.7 678.9 L1065.8 678.8 L1069.8 678.7 L1073.8 678.5 L1077.8 678.4 L1081.8 678.3 L1085.8 678.2 L1089.8 678.0 L1093.8 677.9 L1097.8 677.8 L1101.9 677.6 L1105.9 677.5 L1109.9 677.3 L1113.9 677.2 L1117.9 677.0"/>
<g class="e"><ellipse cx="171.1" cy="855.2" rx="17.0" ry="11.8" fill="rgba(255,64,64,0.5)"/><ellipse cx="249.3" cy="856.2" rx="17.0" ry="11.8" fill="rgba(255,64,64,0.5)"/><ellipse cx="271.1" cy="855.2" rx="17.0" ry="11.8" fill="rgba(255,64,64,0.5)"/><ellipse cx="377.9" cy="854.9" rx="17.0" ry="11.8" fill="rgba(255,64,64,0.5)"/><ellipse cx="395.0" cy="852.1" rx="17.0" ry="11.8" fill="rgba(255,64,64,0.5)"/><ellipse cx="405.4" cy="854.2" rx="17.0" ry="11.8" fill="rgba(255,64,64,0.5)"/><ellipse cx="439.9" cy="852.8" rx="17.0" ry="11.8" fill="rgba(255,64,64,0.5)"/><ellipse cx="498.0" cy="854.3" rx="17.0" ry="11.8" fill="rgba(255,64,64,0.5)"/><ellipse cx="565.7" cy="848.7" rx="17.0" ry="11.8" fill="rgba(255,64,64,0.5)"/><ellipse cx="182.4" cy="856.0" rx="5.5" ry="3.9" fill="rgba(255,64,64,0.5)"/><ellipse cx="192.3" cy="856.0" rx="5.5" ry="3.9" fill="rgba(255,64,64,0.5)"/><ellipse cx="204.5" cy="856.0" rx="5.5" ry="3.9" fill="rgba(255,64,64,0.5)"/><ellipse cx="233.7" cy="856.0" rx="5.5" ry="3.9" fill="rgba(255,64,64,0.5)"/><ellipse cx="255.9" cy="851.7" rx="5.5" ry="3.9" fill="rgba(255,64,64,0.5)"/><ellipse cx="417.2" cy="849.0" rx="5.5" ry="3.9" fill="rgba(255,64,64,0.5)"/><ellipse cx="428.7" cy="849.0" rx="5.5" ry="3.9" fill="rgba(255,64,64,0.5)"/><ellipse cx="453.4" cy="849.0" rx="5.5" ry="3.9" fill="rgba(255,64,64,0.5)"/><ellipse cx="458.9" cy="849.0" rx="5.5" ry="3.9" fill="rgba(255,64,64,0.5)"/><ellipse cx="465.3" cy="849.0" rx="5.5" ry="3.9" fill="rgba(255,64,64,0.5)"/><ellipse cx="510.7" cy="854.4" rx="5.5" ry="3.9" fill="rgba(255,64,64,0.5)"/><ellipse cx="519.8" cy="854.4" rx="5.5" ry="3.9" fill="rgba(255,64,64,0.5)"/><ellipse cx="535.3" cy="855.0" rx="5.5" ry="3.9" fill="rgba(255,64,64,0.5)"/><ellipse cx="627.6" cy="837.4" rx="17.0" ry="11.8" fill="rgba(245,148,50,0.5)"/><ellipse cx="648.7" cy="831.8" rx="17.0" ry="11.8" fill="rgba(245,148,50,0.5)"/><ellipse cx="699.9" cy="725.1" rx="17.0" ry="11.8" fill="rgba(245,148,50,0.5)"/><ellipse cx="728.6" cy="714.9" rx="17.0" ry="11.8" fill="rgba(245,148,50,0.5)"/><ellipse cx="749.9" cy="705.4" rx="17.0" ry="11.8" fill="rgba(245,148,50,0.5)"/><ellipse cx="557.3" cy="840.1" rx="5.5" ry="3.9" fill="rgba(245,148,50,0.5)"/><ellipse cx="567.4" cy="834.1" rx="5.5" ry="3.9" fill="rgba(245,148,50,0.5)"/><ellipse cx="585.0" cy="831.4" rx="5.5" ry="3.9" fill="rgba(245,148,50,0.5)"/><ellipse cx="607.8" cy="832.3" rx="5.5" ry="3.9" fill="rgba(245,148,50,0.5)"/><ellipse cx="686.5" cy="732.2" rx="5.5" ry="3.9" fill="rgba(245,148,50,0.5)"/><ellipse cx="723.8" cy="739.1" rx="5.5" ry="3.9" fill="rgba(245,148,50,0.5)"/><ellipse cx="741.3" cy="735.1" rx="5.5" ry="3.9" fill="rgba(245,148,50,0.5)"/><ellipse cx="842.8" cy="683.0" rx="17.0" ry="11.8" fill="rgba(156,246,116,0.5)"/><ellipse cx="900.4" cy="679.8" rx="17.0" ry="11.8" fill="rgba(156,246,116,0.5)"/><ellipse cx="1100.7" cy="676.9" rx="16.4" ry="11.8" fill="rgba(156,246,116,0.5)"/><ellipse cx="862.9" cy="677.3" rx="5.5" ry="3.9" fill="rgba(156,246,116,0.5)"/><ellipse cx="915.5" cy="679.6" rx="5.5" ry="3.9" fill="rgba(156,246,116,0.5)"/><ellipse cx="955.3" cy="676.6" rx="5.5" ry="3.9" fill="rgba(156,246,116,0.5)"/><ellipse cx="970.8" cy="677.5" rx="5.5" ry="3.9" fill="rgba(156,246,116,0.5)"/><ellipse cx="1086.0" cy="677.1" rx="5.5" ry="3.9" fill="rgba(156,246,116,0.5)"/><ellipse cx="1083.7" cy="680.8" rx="5.5" ry="3.9" fill="rgba(156,246,116,0.5)"/><ellipse cx="1112.3" cy="681.0" rx="5.5" ry="3.9" fill="rgba(156,246,116,0.5)"/><ellipse cx="1117.8" cy="676.8" rx="5.5" ry="3.9" fill="rgba(156,246,116,0.5)"/></g>
<line class="dot" x1="556.4" y1="660.0" x2="556.4" y2="875.6"/>
<line class="dot" x1="751.5" y1="660.0" x2="751.5" y2="875.0"/>
<rect class="fr" x="126.30" y="659.00" width="999.90" height="213.80"/>
<line class="tk" x1="110.5" y1="676.0" x2="127.3" y2="676.0"/>
<line class="tk" x1="110.5" y1="711.8" x2="127.3" y2="711.8"/>
<line class="tk" x1="110.5" y1="747.6" x2="127.3" y2="747.6"/>
<line class="tk" x1="110.5" y1="783.7" x2="127.3" y2="783.7"/>
<line class="tk" x1="110.5" y1="819.5" x2="127.3" y2="819.5"/>
<line class="tk" x1="110.5" y1="855.5" x2="127.3" y2="855.5"/>
<text class="yl" text-anchor="middle" x="96.0" y="688.4">1</text>
<text class="yl" text-anchor="end" x="110.6" y="719.6">0.8</text>
<text class="yl" text-anchor="end" x="110.6" y="755.6">0.6</text>
<text class="yl" text-anchor="end" x="110.6" y="794.9">0.4</text>
<text class="yl" text-anchor="end" x="110.6" y="831.3">0.2</text>
<text class="yl" text-anchor="middle" x="96.0" y="873.4">0</text>
<text class="pt" x="145.8" y="705.8">S segment</text>
</g>
<text class="xl" text-anchor="middle" transform="translate(133.0,909.7) scale(0.975,1.05)">0</text>
<text class="xl" text-anchor="middle" transform="translate(324.9,909.7) scale(0.975,1.05)">20</text>
<text class="xl" text-anchor="middle" transform="translate(516.5,909.7) scale(0.975,1.05)">40</text>
<text class="xl" text-anchor="middle" transform="translate(691.0,909.7) scale(0.975,1.05)">60</text>
<text class="xl" text-anchor="middle" transform="translate(883.1,909.7) scale(0.975,1.05)">80</text>
<text class="xl" text-anchor="middle" transform="translate(1110.1,909.7) scale(0.975,1.05)">100</text>
</svg></body></html>
